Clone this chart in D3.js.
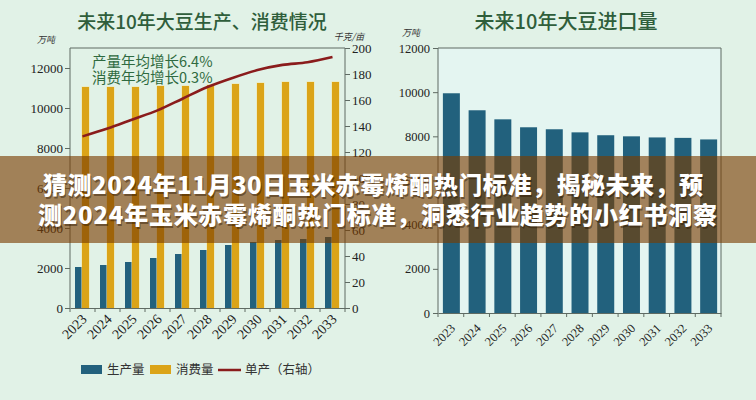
<!DOCTYPE html>
<html>
<head>
<meta charset="utf-8">
<script src="https://cdn.jsdelivr.net/npm/d3@7/dist/d3.min.js"></script>
<style>
  html, body { margin: 0; padding: 0; background: #e1f2e7; }
  svg { display: block; }
</style>
</head>
<body>
<svg id="chart" width="756" height="400"></svg>
<script>
// ---------- data ----------
const years = ['2023','2024','2025','2026','2027','2028','2029','2030','2031','2032','2033'];
const production = [2050, 2150, 2300, 2500, 2700, 2900, 3150, 3300, 3400, 3450, 3550];   // 万吨
const consumption = [11050, 11050, 11050, 11100, 11100, 11150, 11200, 11250, 11300, 11300, 11300]; // 万吨
const yieldPerMu = [132, 138, 145, 152, 161, 170, 177, 183, 187, 189, 193]; // 千克/亩
const imports = [9950, 9180, 8770, 8410, 8320, 8180, 8050, 8000, 7950, 7930, 7860]; // 万吨
const leftTicks = [0, 2000, 4000, 6000, 8000, 10000, 12000];
const rightTicks = [0, 20, 40, 60, 80, 100, 120, 140, 160, 180, 200];
const importTicks = [0, 2000, 4000, 6000, 8000, 10000, 12000];
const titleLeft = '未来10年大豆生产、消费情况';
const titleRight = '未来10年大豆进口量';
const notes = ['产量年均增长6.4%', '消费年均增长0.3%'];
const legendItems = ['生产量', '消费量', '单产（右轴）'];
const bannerLines = ['猜测2024年11月30日玉米赤霉烯酮热门标准，揭秘未来，预',
                     '测2024年玉米赤霉烯酮热门标准，洞悉行业趋势的小红书洞察'];

// ---------- styles ----------
const C = {
  bg: '#e1f2e7', blue: '#22617d', gold: '#dba418', line: '#8a1c1c',
  axis: '#5f6b63', text: '#222', title: '#2f5e3b', note: '#2f6a40'
};
const serif = '"Liberation Serif", "DejaVu Serif", serif';
const cjk = '"Noto Sans CJK SC", "Noto Sans", sans-serif';

const svg = d3.select('#chart');
svg.append('rect').attr('width', 756).attr('height', 400).attr('fill', C.bg);

// ================= LEFT CHART =================
const L = { x0: 70, x1: 345, y0: 308, y1: 48 };
const xL = d3.scaleBand().domain(years).range([L.x0, L.x1]).padding(0);
const xSub = d3.scaleBand().domain(['prod', 'cons']).range([5, 19]).padding(0);
const yL = d3.scaleLinear().domain([0, 13000]).range([L.y0, L.y1]);
const yR = d3.scaleLinear().domain([0, 200]).range([L.y0, L.y1]);

const gL = svg.append('g');
gL.append('text').attr('x', 202).attr('y', 29).attr('text-anchor', 'middle')
  .attr('font-family', cjk).attr('font-size', 19).attr('font-weight', 500)
  .attr('fill', C.title).text(titleLeft);
gL.append('text').attr('x', 46).attr('y', 43).attr('text-anchor', 'middle')
  .attr('font-family', cjk).attr('font-size', 9).attr('font-style', 'italic')
  .attr('fill', '#333').text('万吨');
gL.append('text').attr('x', 349).attr('y', 40).attr('text-anchor', 'middle')
  .attr('font-family', cjk).attr('font-size', 9).attr('font-style', 'italic')
  .attr('fill', '#333').text('千克/亩');

// bars
years.forEach((yr, i) => {
  gL.append('rect').attr('x', xL(yr) + xSub('prod')).attr('width', xSub.bandwidth())
    .attr('y', yL(production[i])).attr('height', yL(0) - yL(production[i])).attr('fill', C.blue);
  gL.append('rect').attr('x', xL(yr) + xSub('cons') - 0.5).attr('width', xSub.bandwidth() + 1)
    .attr('y', yL(consumption[i]) - 0.5).attr('height', yL(0) - yL(consumption[i]) + 0.5)
    .attr('fill', '#f3e6a6');
  gL.append('rect').attr('x', xL(yr) + xSub('cons')).attr('width', xSub.bandwidth())
    .attr('y', yL(consumption[i])).attr('height', yL(0) - yL(consumption[i])).attr('fill', C.gold);
});

// line
const lineGen = d3.line()
  .x((d, i) => xL(years[i]) + xL.bandwidth() / 2)
  .y(d => yR(d))
  .curve(d3.curveMonotoneX);
gL.append('path').datum(yieldPerMu).attr('d', lineGen)
  .attr('fill', 'none').attr('stroke', C.line).attr('stroke-width', 2.6);

// frame top
gL.append('line').attr('x1', L.x0).attr('x2', L.x1).attr('y1', L.y1).attr('y2', L.y1)
  .attr('stroke', C.axis).attr('stroke-width', 1);

// left axis
const axL = gL.append('g').attr('transform', `translate(${L.x0},0)`)
  .call(d3.axisLeft(yL).tickValues(leftTicks).tickSize(5).tickFormat(d3.format('d')));
// right axis
const axR = gL.append('g').attr('transform', `translate(${L.x1},0)`)
  .call(d3.axisRight(yR).tickValues(rightTicks).tickSize(5).tickFormat(d3.format('d')));
[axL, axR].forEach(a => {
  a.select('.domain').attr('d', `M0,${L.y1}V${L.y0}`).attr('stroke', C.axis);
  a.selectAll('.tick line').attr('stroke', C.axis);
  a.selectAll('.tick text').attr('font-family', serif).attr('font-size', 13).attr('fill', C.text);
});
axL.selectAll('.tick text').attr('x', -7);
axR.selectAll('.tick text').attr('x', 7);

// bottom axis: labels at band centres, ticks at band boundaries
const axB = gL.append('g').attr('transform', `translate(0,${L.y0})`)
  .call(d3.axisBottom(xL).tickSize(0));
axB.select('.domain').attr('stroke', C.axis);
axB.selectAll('.tick text')
  .attr('font-family', serif).attr('font-size', 14).attr('fill', C.text)
  .attr('text-anchor', 'end').attr('dy', 0)
  .attr('transform', 'translate(3,10) rotate(-45)');
const boundsL = years.map(y => xL(y)).concat([L.x1]);
gL.selectAll('.bt').data(boundsL).enter().append('line')
  .attr('x1', d => d).attr('x2', d => d).attr('y1', L.y0).attr('y2', L.y0 + 4)
  .attr('stroke', C.axis);

// notes
notes.forEach((t, i) => {
  gL.append('text').attr('x', 92).attr('y', 67 + i * 16)
    .attr('font-family', cjk).attr('font-size', 14.5).attr('fill', C.note).text(t);
});

// legend
const lg = gL.append('g');
lg.append('rect').attr('x', 81).attr('y', 365).attr('width', 21).attr('height', 9).attr('fill', C.blue);
lg.append('text').attr('x', 107).attr('y', 374).attr('font-family', cjk).attr('font-size', 12.5)
  .attr('fill', '#333').text(legendItems[0]);
lg.append('rect').attr('x', 150).attr('y', 365).attr('width', 21).attr('height', 9).attr('fill', C.gold);
lg.append('text').attr('x', 176).attr('y', 374).attr('font-family', cjk).attr('font-size', 12.5)
  .attr('fill', '#333').text(legendItems[1]);
lg.append('line').attr('x1', 218).attr('x2', 241).attr('y1', 370).attr('y2', 370)
  .attr('stroke', C.line).attr('stroke-width', 2.5);
lg.append('text').attr('x', 245).attr('y', 374).attr('font-family', cjk).attr('font-size', 12.5)
  .attr('fill', '#333').text(legendItems[2]);

// ================= RIGHT CHART =================
const R = { x0: 438, x1: 721, y0: 313, y1: 48 };
const xI = d3.scaleBand().domain(years).range([R.x0, R.x1]).padding(0);
const yI = d3.scaleLinear().domain([0, 12000]).range([R.y0, R.y1]);
const gR = svg.append('g');
gR.append('rect').attr('x', R.x0).attr('y', R.y1).attr('width', R.x1 - R.x0)
  .attr('height', R.y0 - R.y1).attr('fill', '#e4f5f1');
gR.append('text').attr('x', 566).attr('y', 29).attr('text-anchor', 'middle')
  .attr('font-family', cjk).attr('font-size', 20).attr('font-weight', 500)
  .attr('fill', C.title).text(titleRight);
gR.append('text').attr('x', 411).attr('y', 36).attr('text-anchor', 'middle')
  .attr('font-family', cjk).attr('font-size', 9).attr('font-style', 'italic')
  .attr('fill', '#333').text('万吨');

gR.selectAll('.ib').data(imports).enter().append('rect')
  .attr('x', (d, i) => xI(years[i]) + xI.bandwidth() * 0.19)
  .attr('width', xI.bandwidth() * 0.66)
  .attr('y', d => yI(d)).attr('height', d => yI(0) - yI(d))
  .attr('fill', C.blue);

// frame
gR.append('path').attr('d', `M${R.x0},${R.y1}H${R.x1}V${R.y0}`)
  .attr('fill', 'none').attr('stroke', C.axis);
const axI = gR.append('g').attr('transform', `translate(${R.x0},0)`)
  .call(d3.axisLeft(yI).tickValues(importTicks).tickSize(5).tickFormat(d3.format('d')));
axI.select('.domain').attr('d', `M0,${R.y1}V${R.y0}`).attr('stroke', C.axis);
axI.selectAll('.tick line').attr('stroke', C.axis);
axI.selectAll('.tick text').attr('font-family', serif).attr('font-size', 12.5)
  .attr('fill', C.text).attr('x', -8);
const axIB = gR.append('g').attr('transform', `translate(0,${R.y0})`)
  .call(d3.axisBottom(xI).tickSize(0));
axIB.select('.domain').attr('stroke', C.axis);
axIB.selectAll('.tick text')
  .attr('font-family', serif).attr('font-size', 12.5).attr('fill', C.text)
  .attr('text-anchor', 'end').attr('dy', 0)
  .attr('transform', 'translate(3,14) rotate(-45)');
const boundsI = years.map(y => xI(y)).concat([R.x1]);
gR.selectAll('.bt').data(boundsI).enter().append('line')
  .attr('x1', d => d).attr('x2', d => d).attr('y1', R.y0).attr('y2', R.y0 + 4)
  .attr('stroke', C.axis);

// ================= BANNER =================
const gB = svg.append('g');
gB.append('rect').attr('x', 0).attr('y', 156).attr('width', 756).attr('height', 87)
  .attr('fill', 'rgb(121,59,0)').attr('fill-opacity', 0.62);
const bannerPos = [{ x: 43, w: 660 }, { x: 38, w: 679 }];
bannerLines.forEach((t, i) => {
  [['rgba(40,20,0,0.45)', 1, 1.5], ['#ffffff', 0, 0]].forEach(([fill, dx, dy]) => {
    gB.append('text').attr('x', bannerPos[i].x + dx).attr('y', 194 + i * 30 + dy)
      .attr('text-anchor', 'start').attr('font-family', cjk).attr('font-weight', 900)
      .attr('font-size', 24).attr('textLength', bannerPos[i].w).attr('lengthAdjust', 'spacing')
      .attr('fill', fill).text(t);
  });
});
</script>
</body>
</html>
